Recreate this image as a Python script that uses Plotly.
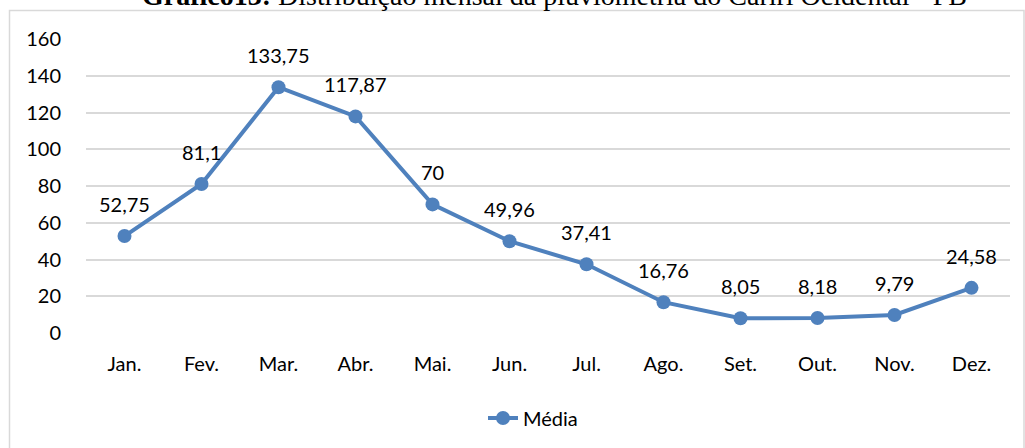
import plotly.graph_objects as go

months = ["Jan.", "Fev.", "Mar.", "Abr.", "Mai.", "Jun.", "Jul.", "Ago.", "Set.", "Out.", "Nov.", "Dez."]
media = [52.75, 81.1, 133.75, 117.87, 70, 49.96, 37.41, 16.76, 8.05, 8.18, 9.79, 24.58]
labels = ["52,75", "81,1", "133,75", "117,87", "70", "49,96", "37,41", "16,76", "8,05", "8,18", "9,79", "24,58"]
y_ticks = [0, 20, 40, 60, 80, 100, 120, 140, 160]

W, H = 1025, 448
L, R, T, B = 86, 15, 39, 115
pw, ph = W - L - R, H - T - B

def px_x(x):
    return (x - L) / pw

def px_y(y):
    return 1 - (y - T) / ph

color = "#4F81BD"
font = "Lato, Open Sans, sans-serif"
fsize = 20

fig = go.Figure()
fig.add_trace(go.Scatter(
    x=months, y=media, mode="lines+markers", name="Média",
    line=dict(color=color, width=4),
    marker=dict(color=color, size=14),
    cliponaxis=False,
))

for m, v, t in zip(months, media, labels):
    fig.add_annotation(x=m, y=v, text=t, showarrow=False, yshift=32,
                       xanchor="center", yanchor="middle",
                       font=dict(family=font, size=fsize, color="#000000"))

fig.add_shape(type="rect", xref="paper", yref="paper",
              x0=px_x(9.5), x1=px_x(1024), y0=px_y(470), y1=px_y(10.5),
              line=dict(color="#D9D9D9", width=1.5), fillcolor="rgba(0,0,0,0)", layer="below")

fig.add_annotation(xref="paper", yref="paper", x=px_x(554), y=px_y(13),
                   xanchor="center", yanchor="bottom", showarrow=False,
                   text="<b>Gráfico13:</b> Distribuição mensal da pluviometria do Cariri Ocidental - PB",
                   font=dict(family="Liberation Serif", size=28, color="#000000"))

fig.update_layout(
    width=W, height=H,
    margin=dict(l=L, r=R, t=T, b=B, autoexpand=False),
    plot_bgcolor="white", paper_bgcolor="white",
    showlegend=True,
    legend=dict(orientation="h", x=px_x(533), xanchor="center", y=px_y(418), yanchor="middle",
                font=dict(family=font, size=fsize, color="#000000")),
    xaxis=dict(range=[-0.5, len(months) - 0.5], showgrid=False, showline=False, ticks="outside",
               ticklen=13, tickcolor="rgba(0,0,0,0)",
               automargin=False, tickfont=dict(family=font, size=fsize, color="#000000")),
    yaxis=dict(range=[0, 160], tickvals=y_ticks, showgrid=True, gridcolor="#D9D9D9", gridwidth=1.5,
               zeroline=False, showline=False, ticks="outside", ticklen=20, tickcolor="rgba(0,0,0,0)",
               automargin=False, tickfont=dict(family=font, size=fsize, color="#000000")),
)

fig.write_html("out.html", config={"displayModeBar": False},
               post_script="document.body.style.margin='0';document.body.style.overflow='hidden';")
